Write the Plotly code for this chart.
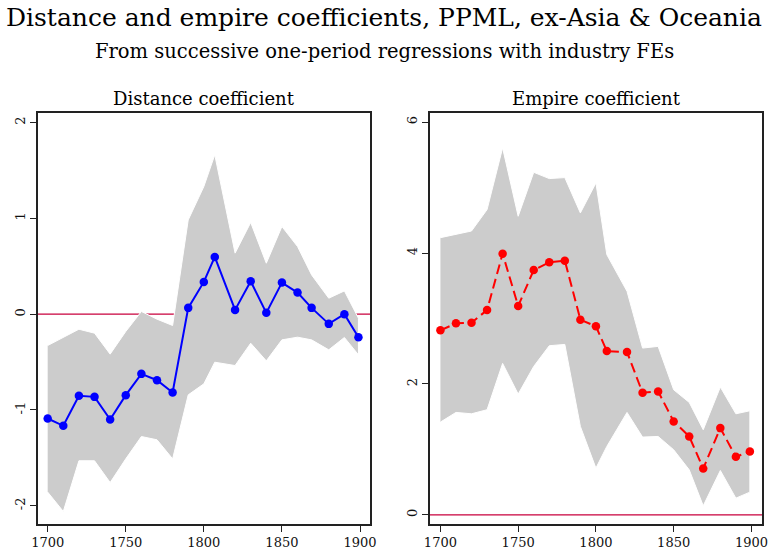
import plotly.graph_objects as go

# survey years (one-period regressions)
years = [1700, 1710, 1720, 1730, 1740, 1750, 1760, 1770, 1780, 1790, 1800,
         1807, 1820, 1830, 1840, 1850, 1860, 1869, 1880, 1890, 1899]

# distance coefficient and 95% band
dist_coef = [-1.089, -1.165, -0.852, -0.863, -1.099, -0.845, -0.623, -0.689, -0.817, 0.066, 0.337,
             0.598, 0.045, 0.344, 0.014, 0.330, 0.226, 0.066, -0.101, 0.000, -0.240]
dist_hi = [-0.327, -0.240, -0.157, -0.198, -0.417, -0.181, 0.028, -0.052, -0.118, 0.984, 1.332,
           1.663, 0.637, 0.957, 0.532, 0.915, 0.706, 0.410, 0.167, 0.243, -0.042]
dist_lo = [-1.857, -2.059, -1.530, -1.530, -1.757, -1.510, -1.277, -1.311, -1.510, -0.842, -0.727,
           -0.501, -0.536, -0.303, -0.487, -0.268, -0.240, -0.268, -0.372, -0.243, -0.424]

# empire coefficient and 95% band
emp_coef = [2.819, 2.926, 2.936, 3.129, 3.991, 3.191, 3.741, 3.858, 3.884, 2.982, 2.880,
            2.503, 2.487, 1.865, 1.886, 1.427, 1.198, 0.708, 1.325, 0.887, 0.968]
emp_hi = [4.235, 4.286, 4.337, 4.664, 5.607, 4.562, 5.234, 5.138, 5.153, 4.613, 5.071,
          3.976, 3.415, 2.548, 2.574, 1.911, 1.718, 1.300, 1.952, 1.544, 1.590]
emp_lo = [1.417, 1.565, 1.544, 1.606, 2.314, 1.845, 2.268, 2.584, 2.604, 1.351, 0.714,
          1.045, 1.565, 1.188, 1.198, 0.994, 0.688, 0.138, 0.678, 0.255, 0.347]

x_ticks = [1700, 1750, 1800, 1850, 1900]
dist_ticks = [-2, -1, 0, 1, 2]
emp_ticks = [0, 2, 4, 6]

FONT = "DejaVu Serif"
BAND = "#cccccc"

fig = go.Figure()


def add_panel(coef, hi, lo, xa, ya, color, dash):
    # confidence band
    fig.add_trace(go.Scatter(
        x=years + years[::-1], y=hi + lo[::-1],
        fill="toself", fillcolor=BAND,
        line=dict(color="white", width=1),
        mode="lines", xaxis=xa, yaxis=ya, hoverinfo="skip",
    ))
    # point estimates
    fig.add_trace(go.Scatter(
        x=years, y=coef, mode="lines+markers",
        line=dict(color=color, width=2, dash=dash),
        marker=dict(color=color, size=8.5),
        xaxis=xa, yaxis=ya,
    ))


add_panel(dist_coef, dist_hi, dist_lo, "x", "y", "#0000ff", "solid")
add_panel(emp_coef, emp_hi, emp_lo, "x2", "y2", "#ff0000", "10px,5px")

# zero lines, drawn under the bands
for xr, yr in [("x domain", "y"), ("x2 domain", "y2")]:
    fig.add_shape(type="line", xref=xr, yref=yr, x0=0, x1=1, y0=0, y1=0,
                  line=dict(color="#c8003c", width=1.2), layer="below")

axis_common = dict(
    showgrid=False, zeroline=False, showline=True, linecolor="#222222", linewidth=1.5,
    mirror=True, ticks="outside", ticklen=6, tickwidth=1, tickcolor="#222222",
    automargin=False, ticklabeloverflow="allow",
    tickfont=dict(family=FONT, size=13, color="#111111"),
)

y_dom = [1 - 524 / 550, 1 - 113 / 550]

fig.update_layout(
    width=768, height=550,
    margin=dict(l=0, r=0, t=0, b=0),
    paper_bgcolor="white", plot_bgcolor="white",
    showlegend=False,
    xaxis=dict(domain=[38 / 768, 370 / 768], range=[1693.8, 1906.4], tickvals=x_ticks,
               anchor="y", **axis_common),
    yaxis=dict(domain=y_dom, range=[-2.19, 2.10], tickvals=dist_ticks,
               ticktext=[str(v) for v in dist_ticks], tickangle=-90,
               anchor="x", **axis_common),
    xaxis2=dict(domain=[430 / 768, 762 / 768], range=[1693.3, 1906.8], tickvals=x_ticks,
                anchor="y2", **axis_common),
    yaxis2=dict(domain=y_dom, range=[-0.14, 6.14], tickvals=emp_ticks,
                ticktext=[str(v) for v in emp_ticks], tickangle=-90,
                anchor="x2", **axis_common),
)

texts = [
    ("Distance and empire coefficients, PPML, ex-Asia & Oceania", 0.5, 1 - 18 / 550, 25),
    ("From successive one-period regressions with industry FEs", 0.5, 1 - 52 / 550, 19.5),
    ("Distance coefficient", 204 / 768, 1 - 98 / 550, 18),
    ("Empire coefficient", 596 / 768, 1 - 98 / 550, 18),
]
for txt, xp, yp, sz in texts:
    fig.add_annotation(text=txt, x=xp, y=yp, xref="paper", yref="paper",
                       showarrow=False, xanchor="center", yanchor="middle",
                       font=dict(family=FONT, size=sz, color="black"))

# page has a default body margin; drop it so the figure sits at the window corner
fig.write_html("out.html", config={"displayModeBar": False},
               post_script="document.body.style.margin='0';document.body.style.overflow='hidden';")
